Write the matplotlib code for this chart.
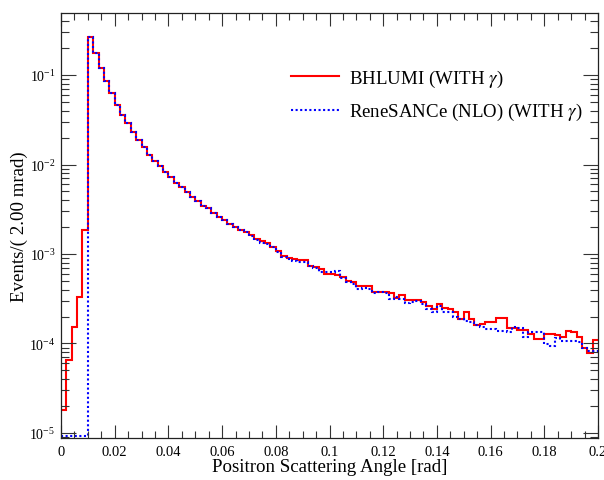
import numpy as np
import matplotlib
matplotlib.use("Agg")
import matplotlib.pyplot as plt
from matplotlib.lines import Line2D
from matplotlib.ticker import FixedLocator, MultipleLocator, LogLocator, NullFormatter

plt.rcParams['font.family'] = ['Liberation Serif', 'DejaVu Serif']
plt.rcParams['mathtext.fontset'] = 'stix'

# ---- data ----
x_min, x_max, n_bins = 0.0, 0.2, 100

bhlumi = [
    1.8e-5, 6.5e-5, 1.54e-4, 3.3e-4, 1.85e-3, 0.264, 0.176, 0.120, 0.085, 0.0625,
    0.0466, 0.0360, 0.0288, 0.0229, 0.0188, 0.0156, 0.0128, 0.0110, 0.00955, 0.00831,
    0.00719, 0.00621, 0.00565, 0.00497, 0.00437, 0.00388, 0.00347, 0.00324, 0.00287, 0.00261,
    0.00238, 0.00216, 0.00200, 0.00185, 0.00175, 0.00163, 0.00147, 0.00139, 0.00132, 0.00121,
    0.00108, 9.57e-4, 9.00e-4, 8.80e-4, 8.50e-4, 8.50e-4, 7.40e-4, 7.10e-4, 6.80e-4, 6.00e-4,
    6.00e-4, 5.80e-4, 5.50e-4, 5.04e-4, 4.86e-4, 4.36e-4, 4.36e-4, 4.36e-4, 3.73e-4, 3.73e-4,
    3.73e-4, 3.64e-4, 3.23e-4, 3.49e-4, 3.03e-4, 3.10e-4, 3.10e-4, 2.90e-4, 2.63e-4, 2.42e-4,
    2.78e-4, 2.50e-4, 2.46e-4, 2.23e-4, 1.87e-4, 2.27e-4, 1.87e-4, 1.62e-4, 1.65e-4, 1.74e-4,
    1.74e-4, 1.91e-4, 1.91e-4, 1.48e-4, 1.48e-4, 1.40e-4, 1.40e-4, 1.27e-4, 1.12e-4, 1.12e-4,
    1.27e-4, 1.27e-4, 1.24e-4, 1.18e-4, 1.37e-4, 1.35e-4, 1.18e-4, 9.0e-5, 7.8e-5, 1.10e-4,
]

renesance = [
    9.3e-6, 9.3e-6, 9.3e-6, 9.3e-6, 9.3e-6, 0.264, 0.176, 0.120, 0.085, 0.0625,
    0.0466, 0.0360, 0.0288, 0.0229, 0.0188, 0.0156, 0.0128, 0.0110, 0.00955, 0.00831,
    0.00719, 0.00621, 0.00565, 0.00497, 0.00437, 0.00388, 0.00347, 0.00324, 0.00287, 0.00261,
    0.00238, 0.00216, 0.00200, 0.00185, 0.00175, 0.00160, 0.00142, 0.00134, 0.00128, 0.00120,
    0.00106, 9.18e-4, 8.79e-4, 8.28e-4, 8.10e-4, 8.20e-4, 7.30e-4, 6.92e-4, 6.34e-4, 6.25e-4,
    6.34e-4, 6.50e-4, 5.35e-4, 4.91e-4, 4.62e-4, 4.06e-4, 4.12e-4, 4.06e-4, 3.66e-4, 3.73e-4,
    3.66e-4, 3.14e-4, 3.28e-4, 3.14e-4, 2.81e-4, 2.88e-4, 3.00e-4, 2.76e-4, 2.43e-4, 2.23e-4,
    2.60e-4, 2.23e-4, 2.23e-4, 1.96e-4, 1.88e-4, 1.80e-4, 1.75e-4, 1.61e-4, 1.52e-4, 1.45e-4,
    1.45e-4, 1.39e-4, 1.39e-4, 1.33e-4, 1.52e-4, 1.48e-4, 1.17e-4, 1.36e-4, 1.36e-4, 1.36e-4,
    9.86e-5, 9.44e-5, 1.14e-4, 1.07e-4, 1.07e-4, 1.07e-4, 1.03e-4, 8.84e-5, 8.31e-5, 8.31e-5,
]

series_labels = [r"BHLUMI (WITH $\gamma$)", r"ReneSANCe (NLO) (WITH $\gamma$)"]
xtick_values = [0, 0.02, 0.04, 0.06, 0.08, 0.1, 0.12, 0.14, 0.16, 0.18, 0.2]
xtick_labels = ["0", "0.02", "0.04", "0.06", "0.08", "0.1", "0.12", "0.14", "0.16", "0.18", "0.2"]
x_title = "Positron Scattering Angle [rad]"
y_title = "Events/( 2.00 mrad)"

# ---- figure ----
W, H = 604, 481
fig = plt.figure(figsize=(W / 100, H / 100), dpi=100)
L, R, T, B = 61, 598, 14, 439
ax = fig.add_axes([L / W, 1 - B / H, (R - L) / W, (B - T) / H])

edges = np.linspace(x_min, x_max, n_bins + 1)
ax.stairs(bhlumi, edges, baseline=None, color='#ff0000', linewidth=1.5)
ax.stairs(renesance, edges, baseline=None, color='#0000ff', linewidth=1.5,
          linestyle=(0, (1, 1.2)))

ax.set_yscale('log')
ax.set_xlim(x_min, x_max)
ax.set_ylim(8.79e-6, 0.493)

ax.xaxis.set_major_locator(FixedLocator(xtick_values))
ax.set_xticklabels(xtick_labels)
ax.xaxis.set_minor_locator(MultipleLocator(0.005))
ax.yaxis.set_major_locator(LogLocator(base=10, numticks=20))
ax.yaxis.set_minor_locator(LogLocator(base=10, subs=np.arange(2, 10), numticks=20))
ax.yaxis.set_minor_formatter(NullFormatter())

ax.tick_params(which='both', direction='in', top=True, right=True, width=0.8, color='#333333')
ax.tick_params(axis='x', which='major', length=9.4, labelsize=10.5, pad=5)
ax.tick_params(axis='x', which='minor', length=5)
ax.tick_params(axis='y', which='major', length=10.8, labelsize=10, pad=4)
ax.tick_params(axis='y', which='minor', length=5.6)
for s in ax.spines.values():
    s.set_linewidth(0.9)
    s.set_color('#222222')

ax.set_xlabel(x_title, fontsize=13.6)
ax.xaxis.set_label_coords(0.5, -0.046)
ax.set_ylabel(y_title, fontsize=13.6)
ax.yaxis.set_label_coords(-0.062, 0.5)

handles = [Line2D([], [], color='#ff0000', linewidth=1.5),
           Line2D([], [], color='#0000ff', linewidth=1.5, linestyle=(0, (1, 1.2)))]
fig.legend(handles, series_labels, loc='upper left', bbox_to_anchor=(291 / W, 1 - 68.5 / H),
           bbox_transform=fig.transFigure, frameon=False, fontsize=13.6,
           handlelength=2.55, handletextpad=0.5, labelspacing=0.66, borderpad=0, borderaxespad=0)

fig.savefig('out.png', dpi=100)
